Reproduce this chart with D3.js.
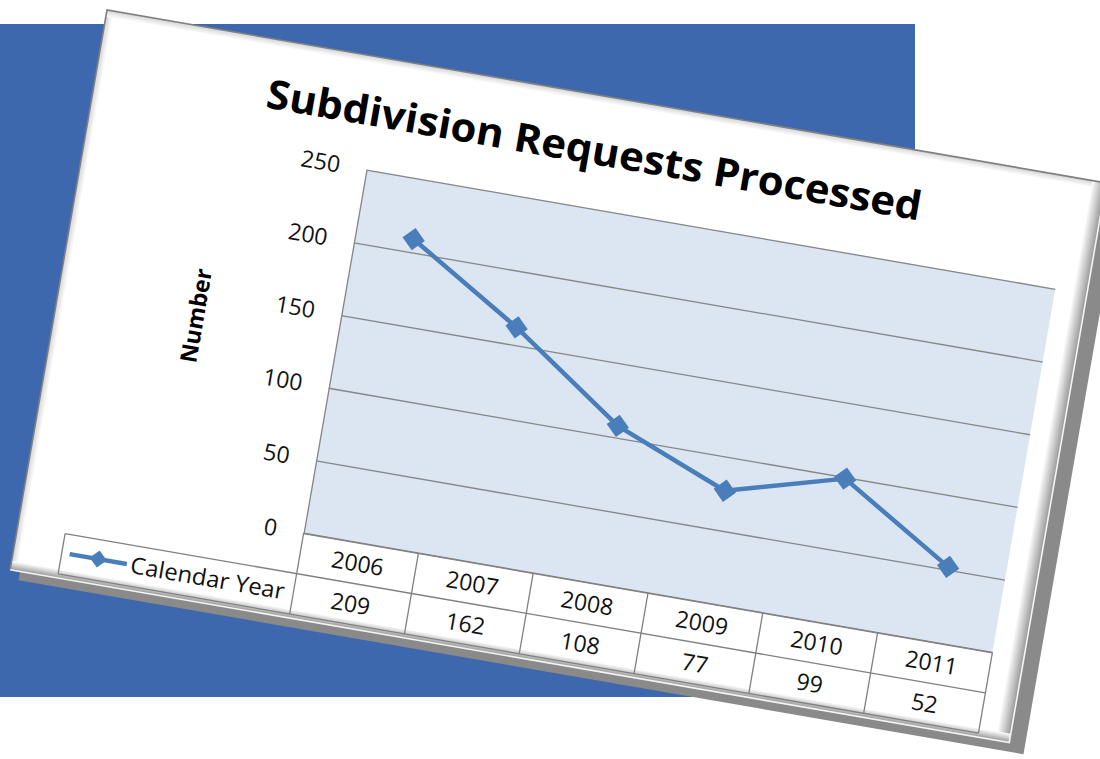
<!DOCTYPE html>
<html>
<head>
<meta charset="utf-8">
<script src="https://cdn.jsdelivr.net/npm/d3@7"></script>
<style>
  html, body { margin: 0; padding: 0; background: #ffffff; }
  svg { display: block; }
  text { font-family: "Open Sans", "Noto Sans", sans-serif; }
</style>
</head>
<body>
<script>
// chart data
var years = ["2006", "2007", "2008", "2009", "2010", "2011"];
var requests = [209, 162, 108, 77, 99, 52];
var yTicks = [0, 50, 100, 150, 200, 250];
var chartTitle = "Subdivision Requests Processed";
var yTitle = "Number";
var seriesName = "Calendar Year";

(function(w){
	var c = {
		width: 1100, height: 759,
		blue: "#3e68ae", line: "#4a7ebb", plotFill: "#dce6f2", grid: "#868686",
		// flat chart, then tilted onto the page
		panel: {x: 107, y: 10, angle: 9.82, w: 1014, h: 568},
		plot: {left: 283, right: 982, top: 113, bottom: 482},
		row: 41, legendLeft: 48, fs: 23
	};
	var svg = d3.select("body").append("svg")
		.attr("width", c.width).attr("height", c.height);

	var defs = svg.append("defs");
	function grad(id, x2, y2, from, to) {
		var g = defs.append("linearGradient").attr("id", id)
			.attr("x1", 0).attr("y1", 0).attr("x2", x2).attr("y2", y2);
		g.append("stop").attr("offset", 0).attr("stop-color", from);
		g.append("stop").attr("offset", 1).attr("stop-color", to);
	}
	grad("bevR", 1, 0, "#ffffff", "#979797");
	grad("bevB", 0, 1, "#ffffff", "#979797");
	grad("bevL", 1, 0, "#d4d4d4", "#ffffff");
	grad("bevT", 0, 1, "#d4d4d4", "#ffffff");

	// blue card behind the chart
	svg.append("rect").attr("x", 0).attr("y", 24).attr("width", 915).attr("height", 673)
		.attr("fill", c.blue);

	var g = svg.append("g")
		.attr("transform", "translate(" + c.panel.x + "," + c.panel.y + ") rotate(" + c.panel.angle + ")");

	var P = c.panel;
	// shadow and panel
	g.append("rect").attr("x", 10).attr("y", 8).attr("width", P.w + 6).attr("height", P.h + 1)
		.attr("fill", "#8a8a8a");
	g.append("rect").attr("x", 0).attr("y", 0).attr("width", P.w).attr("height", P.h)
		.attr("fill", "#ffffff");
	g.append("rect").attr("x", 0).attr("y", 0).attr("width", 7).attr("height", P.h).attr("fill", "url(#bevL)");
	g.append("rect").attr("x", 0).attr("y", 0).attr("width", P.w).attr("height", 7).attr("fill", "url(#bevT)");
	g.append("rect").attr("x", P.w - 14).attr("y", 0).attr("width", 14).attr("height", P.h).attr("fill", "url(#bevR)");
	g.append("rect").attr("x", 0).attr("y", P.h - 9).attr("width", P.w).attr("height", 9).attr("fill", "url(#bevB)");
	g.append("path").attr("d", "M0," + P.h + "V0H" + P.w)
		.attr("fill", "none").attr("stroke", "#7f7f7f").attr("stroke-width", 1.6);
	g.append("path").attr("d", "M" + P.w + ",0V" + P.h + "H0")
		.attr("fill", "none").attr("stroke", "#f4f4f4").attr("stroke-width", 1.6);

	var p = c.plot;
	var x = d3.scaleBand().domain(years).range([p.left, p.right]);
	var y = d3.scaleLinear().domain([0, 250]).range([p.bottom, p.top]);

	// title
	g.append("text").attr("x", 504).attr("y", 69)
		.attr("text-anchor", "middle").attr("font-size", 40).attr("font-weight", "bold")
		.attr("textLength", 664).attr("lengthAdjust", "spacingAndGlyphs")
		.attr("fill", "#000").text(chartTitle);

	// plot area
	g.append("rect").attr("x", p.left).attr("y", p.top)
		.attr("width", p.right - p.left).attr("height", p.bottom - p.top)
		.attr("fill", c.plotFill);

	var yAxis = g.append("g").attr("transform", "translate(" + p.left + ",0)")
		.call(d3.axisLeft(y).tickValues(yTicks).tickSize(-(p.right - p.left)).tickSizeOuter(0).tickPadding(27));
	yAxis.select(".domain").attr("stroke", c.grid).attr("stroke-width", 1.3);
	yAxis.selectAll(".tick line").attr("stroke", c.grid).attr("stroke-width", 1.3);
	yAxis.selectAll(".tick text").attr("font-size", c.fs).attr("fill", "#111")
		.attr("font-family", "'Open Sans', sans-serif");

	g.append("text")
		.attr("transform", "translate(148,286) rotate(-90)")
		.attr("text-anchor", "middle").attr("font-size", 23).attr("font-weight", "bold")
		.attr("fill", "#000").text(yTitle);

	// data table below the plot
	var t = g.append("g").attr("class", "table");
	var r1 = p.bottom + c.row, r2 = p.bottom + 2 * c.row;
	var border = function(sel) { return sel.attr("stroke", "#808080").attr("stroke-width", 1.3).attr("fill", "none"); };
	border(t.append("path").attr("d",
		"M" + p.left + "," + p.bottom + "H" + p.right +
		"M" + c.legendLeft + "," + r1 + "H" + p.right +
		"M" + c.legendLeft + "," + r2 + "H" + p.right +
		"M" + c.legendLeft + "," + r1 + "V" + r2));
	border(t.selectAll("line.col").data(years.concat(["end"])).enter().append("line")
		.attr("class", "col")
		.attr("x1", function(d, i) { return p.left + i * x.bandwidth(); })
		.attr("x2", function(d, i) { return p.left + i * x.bandwidth(); })
		.attr("y1", p.bottom).attr("y2", r2));

	t.selectAll("text.year").data(years).enter().append("text")
		.attr("class", "year")
		.attr("x", function(d) { return x(d) + x.bandwidth() / 2; })
		.attr("y", p.bottom + c.row / 2).attr("dy", "0.36em")
		.attr("text-anchor", "middle").attr("font-size", c.fs).attr("fill", "#111")
		.text(function(d) { return d; });
	t.selectAll("text.val").data(requests).enter().append("text")
		.attr("class", "val")
		.attr("x", function(d, i) { return x(years[i]) + x.bandwidth() / 2; })
		.attr("y", r1 + c.row / 2).attr("dy", "0.36em")
		.attr("text-anchor", "middle").attr("font-size", c.fs).attr("fill", "#111")
		.text(function(d) { return d; });

	// legend key inside the table
	var ly = r1 + c.row / 2 - 1;
	g.append("line").attr("x1", 56).attr("x2", 114).attr("y1", ly).attr("y2", ly)
		.attr("stroke", c.line).attr("stroke-width", 4.5);
	g.append("path").attr("d", d3.symbol(d3.symbolSquare, 150)())
		.attr("transform", "translate(85," + ly + ") rotate(45)").attr("fill", c.line);
	g.append("text").attr("x", 118).attr("y", ly).attr("dy", "0.36em")
		.attr("font-size", c.fs).attr("fill", "#111")
		.attr("textLength", 156).attr("lengthAdjust", "spacingAndGlyphs").text(seriesName);

	// series
	var pts = requests.map(function(v, i) { return [x(years[i]) + x.bandwidth() / 2, y(v)]; });
	g.append("path").datum(pts).attr("d", d3.line())
		.attr("fill", "none").attr("stroke", c.line).attr("stroke-width", 4.5)
		.attr("stroke-linejoin", "round");
	g.selectAll("path.mark").data(pts).enter().append("path")
		.attr("class", "mark")
		.attr("d", d3.symbol(d3.symbolSquare, 256)())
		.attr("transform", function(d) { return "translate(" + d[0] + "," + d[1] + ") rotate(45)"; })
		.attr("fill", c.line);
})(window);
</script>
</body>
</html>
